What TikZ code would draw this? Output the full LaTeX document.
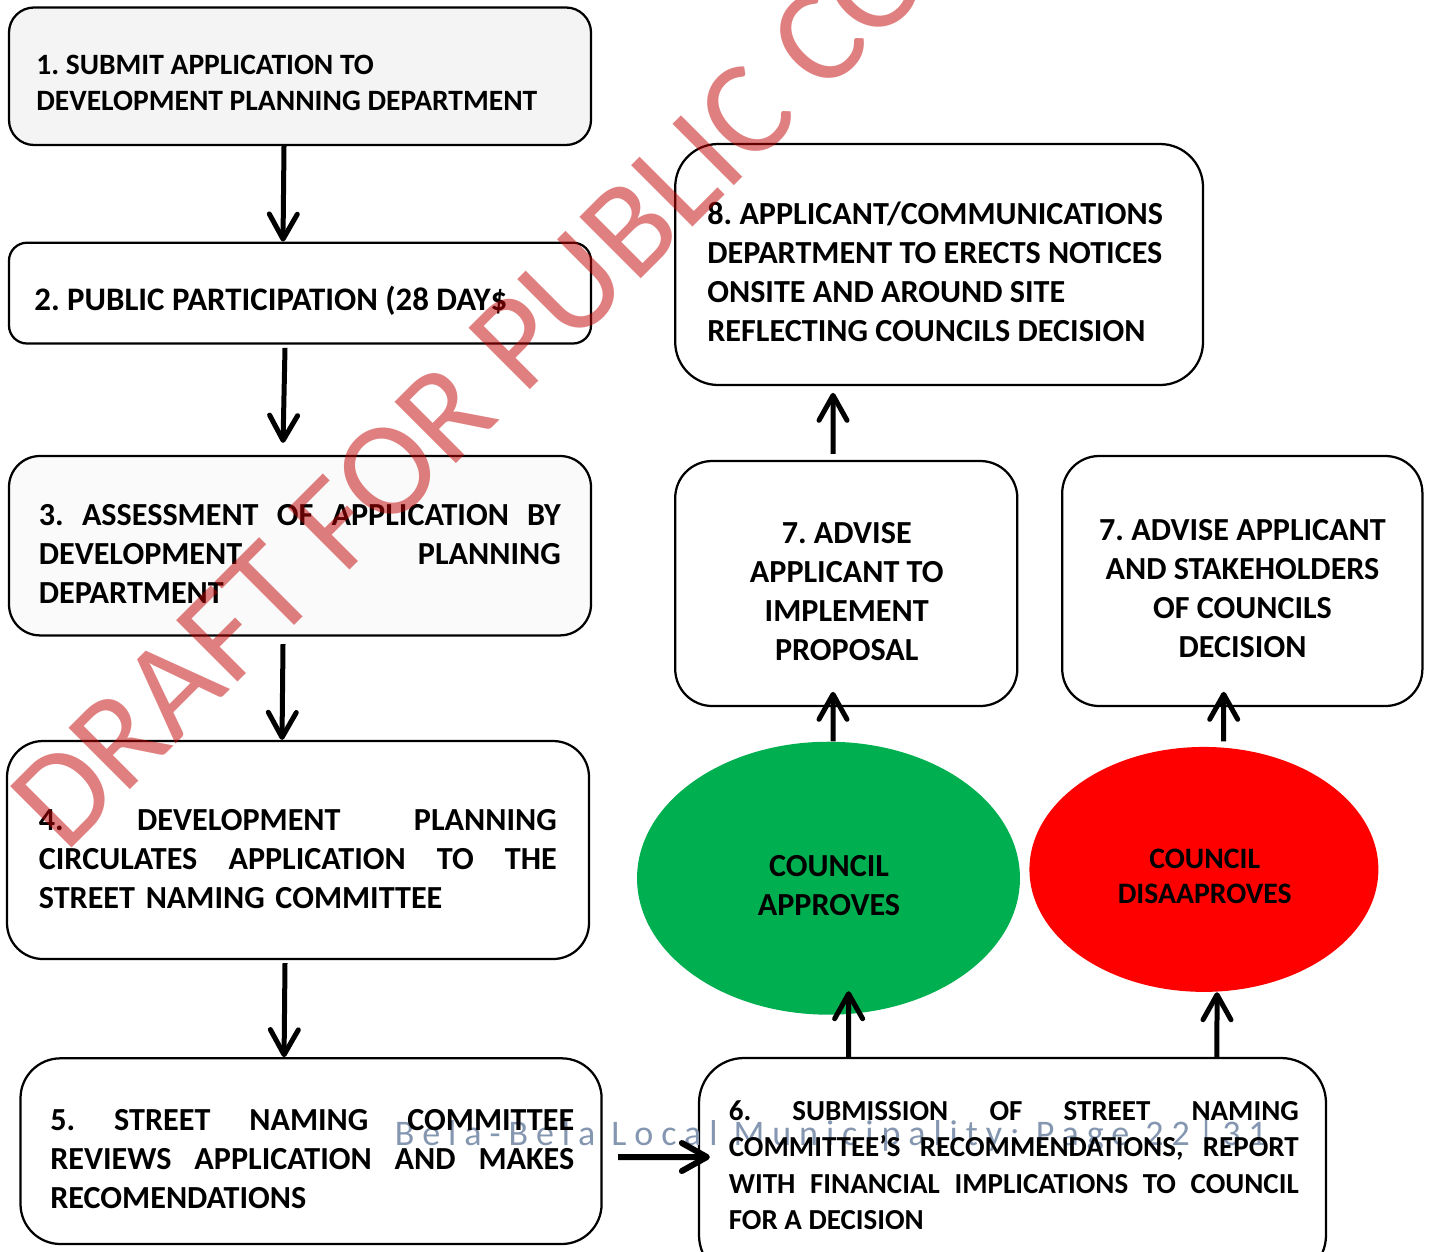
\documentclass[tikz,border=0pt]{standalone}
\usepackage{fontspec}
\setmainfont{Carlito}
\usetikzlibrary{arrows.meta,fit,shapes.geometric}
\frenchspacing

\definecolor{lightbox}{HTML}{F4F4F4}
\definecolor{paperbox}{HTML}{FAFAFA}
\definecolor{yesgreen}{HTML}{00B050}
\definecolor{footgrey}{HTML}{8496B0}
\definecolor{draftred}{HTML}{C00000}

\newcommand{\jline}[2]{\makebox[#1][s]{\spaceskip=0pt\xspaceskip=0pt #2}}

\tikzset{
  stepbox/.style={draw, line width=0.045cm, inner sep=0pt, rounded corners=#1},
  bigtext/.style={inner sep=0pt, font=\bfseries\fontsize{18.3}{22.2}\selectfont},
  smalltext/.style={inner sep=0pt, font=\bfseries\fontsize{16.8}{20.5}\selectfont},
  flow/.style={-{Straight Barb[length=0.5cm, width=0.56cm, line cap=round, line join=round]}, line width=0.1cm},
}

\begin{document}
\begin{tikzpicture}[x=0.02cm, y=-0.02cm]
    \useasboundingbox (0,0) rectangle (1429,1251);
    \clip (0,0) rectangle (1429,1251);

    \node[stepbox=0.5cm, fill=lightbox, fit={(9,7.5) (591,145)}] (submit) {};
    \node[stepbox=0.36cm, fit={(9,242.7) (591,343.5)}] (publicpart) {};
    \node[stepbox=0.62cm, fill=paperbox, fit={(9,456) (591,635.4)}] (assess) {};
    \node[stepbox=0.72cm, fit={(7,741) (589,959)}] (circulate) {};
    \node[stepbox=0.8cm, fit={(20.5,1058.3) (601.6,1244)}] (review) {};
    \node[stepbox=0.9cm, fit={(699,1058) (1326,1280)}] (submission) {};
    \node[stepbox=0.86cm, fit={(675.2,144) (1203,385)}] (notices) {};
    \node[stepbox=0.74cm, fit={(675.2,461) (1017.3,706)}] (adviseyes) {};
    \node[stepbox=0.74cm, fit={(1062.2,456) (1422.4,706)}] (adviseno) {};
    \node[ellipse, fill=yesgreen, inner sep=0pt, minimum width=7.66cm, minimum height=5.46cm] (approve) at (828.5,878.2) {};
    \node[ellipse, fill=red, inner sep=0pt, minimum width=6.98cm, minimum height=4.9cm] (disapprove) at (1203.9,869.4) {};

    \node[anchor=base west, inner sep=0pt, text=footgrey, font=\fontsize{20.5}{24}\selectfont\addfontfeature{LetterSpace=22}] (footer) at (394.5,1145) {Bela-Bela Local Municipality: Page 22|31};

    \node[smalltext, anchor=north west, align=left] (submit-t) at (36,49.1) {\strut 1. SUBMIT APPLICATION TO\\DEVELOPMENT PLANNING DEPARTMENT};
    \node[bigtext, anchor=base west, font=\bfseries\fontsize{18.7}{22.2}\selectfont] (publicpart-t) at (34,310.7) {2. PUBLIC PARTICIPATION (28 DAY\$};
    \node[bigtext, anchor=north west, text width=10.44cm, align=left] (assess-t) at (38.5,497.7)
      {\strut\jline{10.44cm}{3. ASSESSMENT OF APPLICATION BY}\\\jline{10.44cm}{DEVELOPMENT PLANNING}\\DEPARTMENT};
    \node[bigtext, anchor=north west, text width=10.36cm, align=left] (circulate-t) at (38.5,803)
      {\strut\jline{10.36cm}{4. DEVELOPMENT PLANNING}\\\jline{10.36cm}{CIRCULATES APPLICATION TO THE}\\STREET NAMING COMMITTEE};
    \node[bigtext, anchor=north west, text width=10.48cm, align=left] (review-t) at (50,1102.7)
      {\strut\jline{10.48cm}{5. STREET NAMING COMMITTEE}\\\jline{10.48cm}{REVIEWS APPLICATION AND MAKES}\\RECOMENDATIONS};
    \node[smalltext, anchor=north west, text width=11.4cm, align=left, font=\bfseries\fontsize{16.5}{20.8}\selectfont] (submission-t) at (728.5,1094.2)
      {\strut\jline{11.4cm}{6. SUBMISSION OF STREET NAMING}\\\jline{11.4cm}{COMMITTEE’S RECOMMENDATIONS, REPORT}\\\jline{11.4cm}{WITH FINANCIAL IMPLICATIONS TO COUNCIL}\\{\spaceskip=0pt FOR A DECISION}};
    \node[bigtext, anchor=north west, align=left] (notices-t) at (707,196.7)
      {\strut 8. APPLICANT/COMMUNICATIONS\\DEPARTMENT TO ERECTS NOTICES\\ONSITE AND AROUND SITE\\REFLECTING COUNCILS DECISION};
    \node[bigtext, anchor=north, align=center] (adviseyes-t) at (846.7,516.1)
      {\strut 7. ADVISE\\APPLICANT TO\\IMPLEMENT\\PROPOSAL};
    \node[bigtext, anchor=north, align=center] (adviseno-t) at (1242.5,513)
      {\strut 7. ADVISE APPLICANT\\AND STAKEHOLDERS\\OF COUNCILS\\DECISION};
    \node[bigtext, anchor=north, align=center] (approve-t) at (829,849) {\strut COUNCIL\\APPROVES};
    \node[bigtext, anchor=north, align=center, font=\bfseries\fontsize{16.9}{20}\selectfont] (disapprove-t) at (1204.7,843.2) {\strut COUNCIL\\DISAAPROVES};

    \draw[flow] ([xshift=-0.32cm]submit.south) -- ([xshift=-0.34cm]publicpart.north);
    \draw[flow] ([xshift=-0.3cm, yshift=-0.064cm]publicpart.south) -- ([xshift=-0.34cm, yshift=0.24cm]assess.north);
    \draw[flow] ([xshift=-0.34cm, yshift=-0.152cm]assess.south) -- ([xshift=-0.32cm]circulate.north);
    \draw[flow] ([xshift=-0.26cm, yshift=-0.06cm]circulate.south) -- ([xshift=-0.54cm]review.north);
    \draw[flow, line width=0.12cm] ([xshift=0.31cm, yshift=-0.117cm]review.east) -- ([xshift=0.24cm, yshift=0.24cm]submission.west);
    \draw[flow] ([xshift=-3.278cm]submission.north) -- ([xshift=0.402cm, yshift=0.476cm]approve.south);
    \draw[flow] ([xshift=4.09cm]submission.north) -- ([xshift=0.262cm]disapprove.south);
    \draw[flow] ([xshift=0.09cm]approve.north) -- ([xshift=-0.265cm, yshift=0.306cm]adviseyes.south);
    \draw[flow] ([xshift=0.396cm, yshift=0.106cm]disapprove.north) -- ([xshift=-0.372cm, yshift=0.306cm]adviseno.south);
    \draw[flow] ([xshift=-0.265cm, yshift=0.12cm]adviseyes.north) -- ([xshift=-2.122cm, yshift=-0.134cm]notices.south);

    \node[rotate=45, anchor=base west, inner sep=0pt, text=draftred, opacity=0.5, font=\fontsize{77}{80}\selectfont] (draft) at (64.8,855.2) {DRAFT FOR PUBLIC CO};
\end{tikzpicture}
\end{document}
